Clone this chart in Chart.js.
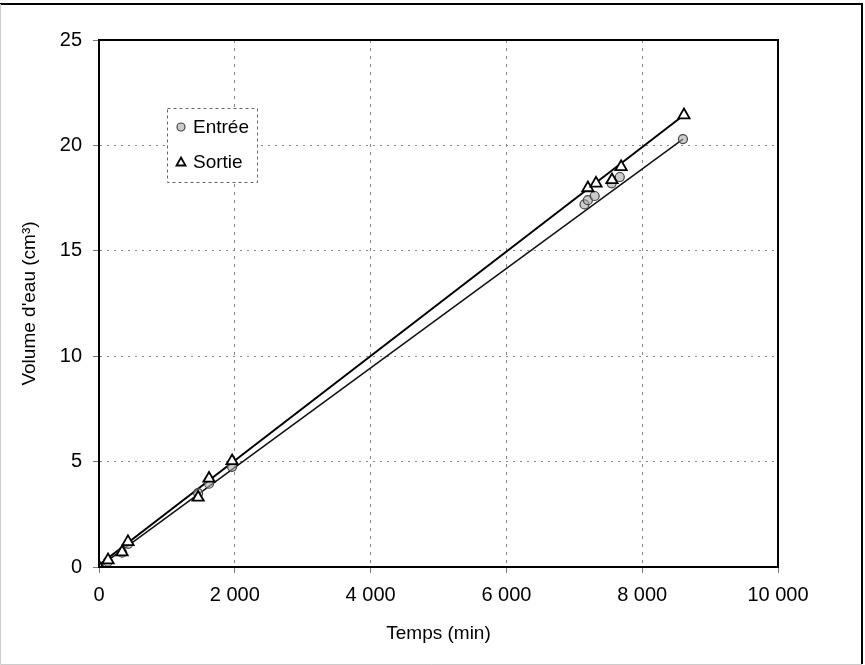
<!DOCTYPE html>
<html>
<head>
<meta charset="utf-8">
<script src="https://cdn.jsdelivr.net/npm/chart.js@4.4.0/dist/chart.umd.min.js"></script>
<style>
  html, body { margin: 0; padding: 0; background: #fff; }
  #wrap { width: 865px; height: 665px; position: relative; }
</style>
</head>
<body>
<div id="wrap"><canvas id="chart" width="865" height="665"></canvas></div>
<script>
// valeurs
const entreeTemps = [0, 130, 340, 430, 1460, 1620, 1960, 7150, 7200, 7300, 7550, 7670, 8600];
const entreeVolume = [0, 0.25, 0.68, 1.1, 3.5, 3.95, 4.75, 17.2, 17.4, 17.6, 18.2, 18.5, 20.3];
const sortieTemps = [0, 133, 340, 427, 1460, 1620, 1960, 7200, 7320, 7555, 7690, 8615];
const sortieVolume = [0, 0.33, 0.71, 1.19, 3.3, 4.2, 5.03, 17.98, 18.2, 18.36, 18.98, 21.44];

// droites de tendance (extrémités lues)
const entreeTendanceX = [0, 8600];
const entreeTendanceY = [0, 20.3];
const sortieTendanceX = [0, 8615];
const sortieTendanceY = [0.1, 21.44];

const xTicks = [0, 2000, 4000, 6000, 8000, 10000];
const yTicks = [0, 5, 10, 15, 20, 25];

const FONT = "'Liberation Sans', Arial, sans-serif";

const toPoints = (xs, ys) => xs.map((x, i) => ({ x, y: ys[i] }));
const formatMilliers = (v) => String(v).replace(/\B(?=(\d{3})+(?!\d))/g, ' ');

const framePlugin = {
  id: 'frame',
  beforeDraw: (chart) => {
    const ctx = chart.ctx;
    ctx.save();
    ctx.fillStyle = '#fff';
    ctx.fillRect(0, 0, chart.width, chart.height);
    ctx.restore();
  },
  afterDraw: (chart) => {
    const { ctx, chartArea: a } = chart;
    ctx.save();
    // cadre du graphique
    ctx.strokeStyle = '#000';
    ctx.lineWidth = 2;
    ctx.strokeRect(a.left, a.top, a.right - a.left, a.bottom - a.top);
    // cadre extérieur
    ctx.beginPath();
    ctx.moveTo(0, 4);
    ctx.lineTo(862, 4);
    ctx.lineTo(862, 664);
    ctx.stroke();
    ctx.strokeStyle = '#ccc';
    ctx.lineWidth = 1;
    ctx.beginPath();
    ctx.moveTo(862, 664.5);
    ctx.lineTo(0.5, 664.5);
    ctx.lineTo(0.5, 4);
    ctx.stroke();

    // légende
    const bx = 167, by = 108, bw = 90, bh = 74;
    ctx.strokeStyle = '#666';
    ctx.lineWidth = 1;
    ctx.setLineDash([3, 3]);
    ctx.fillStyle = '#fff';
    ctx.fillRect(bx, by, bw, bh);
    ctx.strokeRect(bx + 0.5, by + 0.5, bw, bh);
    ctx.setLineDash([]);
    const items = [
      { label: 'Entrée', ds: chart.data.datasets[0], y: 127 },
      { label: 'Sortie', ds: chart.data.datasets[1], y: 162 }
    ];
    items.forEach((it) => {
      ctx.fillStyle = it.ds.backgroundColor;
      ctx.strokeStyle = it.ds.borderColor;
      ctx.lineWidth = it.ds.borderWidth;
      ctx.beginPath();
      if (it.ds.pointStyle === 'circle') {
        ctx.arc(181, it.y, 4, 0, Math.PI * 2);
      } else {
        ctx.moveTo(181, it.y - 4.5);
        ctx.lineTo(185.5, it.y + 3.5);
        ctx.lineTo(176.5, it.y + 3.5);
        ctx.closePath();
      }
      ctx.fill();
      ctx.stroke();
      ctx.fillStyle = '#000';
      ctx.font = `19px ${FONT}`;
      ctx.textBaseline = 'middle';
      ctx.textAlign = 'left';
      ctx.fillText(it.label, 193, it.y + 1);
    });
    ctx.restore();
  }
};

new Chart(document.getElementById('chart'), {
  type: 'scatter',
  data: {
    datasets: [
      {
        label: 'Entrée',
        data: toPoints(entreeTemps, entreeVolume),
        pointStyle: 'circle',
        pointRadius: 4.5,
        borderColor: '#444',
        backgroundColor: 'rgba(170,170,170,0.6)',
        borderWidth: 1.2,
        showLine: false,
        order: 1
      },
      {
        label: 'Sortie',
        data: toPoints(sortieTemps, sortieVolume),
        pointStyle: 'triangle',
        pointRadius: 6.5,
        borderColor: '#000',
        backgroundColor: '#fff',
        borderWidth: 1.8,
        showLine: false,
        order: 0
      },
      {
        label: 'Tendance entrée',
        data: toPoints(entreeTendanceX, entreeTendanceY),
        showLine: true,
        pointRadius: 0,
        borderColor: '#111',
        borderWidth: 1.5,
        order: 3
      },
      {
        label: 'Tendance sortie',
        data: toPoints(sortieTendanceX, sortieTendanceY),
        showLine: true,
        pointRadius: 0,
        borderColor: '#000',
        borderWidth: 2,
        order: 2
      }
    ]
  },
  options: {
    responsive: false,
    animation: false,
    layout: { padding: { left: 0, top: 40, right: 87, bottom: 0 } },
    plugins: {
      legend: { display: false },
      tooltip: { enabled: false }
    },
    scales: {
      x: {
        type: 'linear',
        min: 0,
        max: 10000,
        afterBuildTicks: (scale) => { scale.ticks = xTicks.map((v) => ({ value: v })); },
        afterFit: (scale) => { scale.height = 98; },
        ticks: {
          color: '#000',
          font: { family: FONT, size: 20 },
          padding: 10,
          maxRotation: 0,
          callback: (v) => formatMilliers(v)
        },
        grid: {
          color: '#888',
          lineWidth: 1,
          tickLength: 6,
          tickColor: '#777',
          tickBorderDash: []
        },
        border: { display: true, color: '#000', width: 2, dash: [3, 5] },
        title: {
          display: true,
          text: 'Temps (min)',
          color: '#000',
          font: { family: FONT, size: 19 },
          padding: { top: 0, bottom: 20 }
        }
      },
      y: {
        type: 'linear',
        min: 0,
        max: 25,
        afterBuildTicks: (scale) => { scale.ticks = yTicks.map((v) => ({ value: v })); },
        afterFit: (scale) => { scale.width = 99; },
        ticks: {
          color: '#000',
          font: { family: FONT, size: 20 },
          padding: 11
        },
        grid: {
          color: '#888',
          lineWidth: 1,
          tickLength: 6,
          tickColor: '#777',
          tickBorderDash: []
        },
        border: { display: true, color: '#000', width: 2, dash: [2, 5] },
        title: {
          display: true,
          text: 'Volume d\'eau (cm³)',
          color: '#000',
          font: { family: FONT, size: 19 },
          padding: { top: 18, bottom: 0 }
        }
      }
    }
  },
  plugins: [framePlugin]
});
</script>
</body>
</html>
